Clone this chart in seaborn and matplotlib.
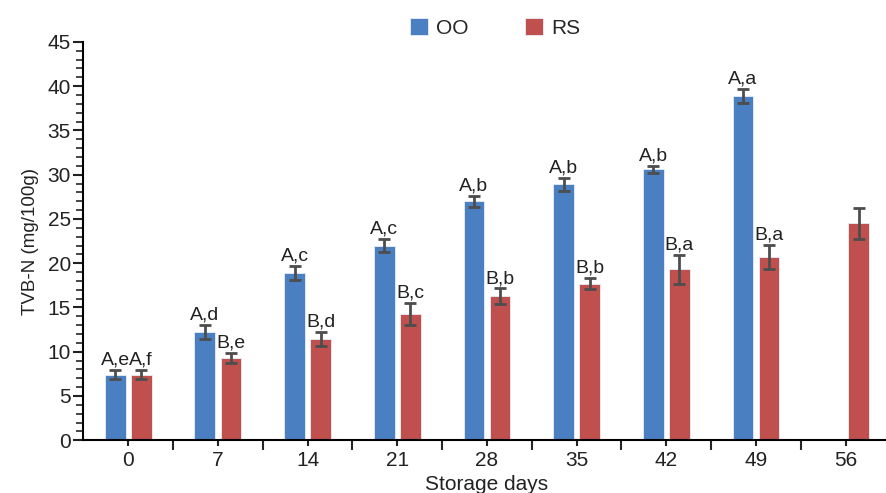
import numpy as np
import pandas as pd
import matplotlib
matplotlib.use("Agg")
import matplotlib.pyplot as plt
import seaborn as sns
from matplotlib.ticker import MultipleLocator, FixedLocator

days = ["0", "7", "14", "21", "28", "35", "42", "49", "56"]
oo_vals = [7.4, 12.2, 18.9, 22.0, 27.0, 28.9, 30.6, 38.9, np.nan]
oo_err = [0.5, 0.8, 0.8, 0.7, 0.6, 0.75, 0.4, 0.8, np.nan]
rs_vals = [7.4, 9.3, 11.4, 14.3, 16.25, 17.7, 19.3, 20.7, 24.5]
rs_err = [0.5, 0.6, 0.8, 1.25, 0.9, 0.65, 1.6, 1.4, 1.75]
oo_labels = ["A,e", "A,d", "A,c", "A,c", "A,b", "A,b", "A,b", "A,a", ""]
rs_labels = ["A,f", "B,e", "B,d", "B,c", "B,b", "B,b", "B,a", "B,a", ""]

series = ["OO", "RS"]
colors = {"OO": "#4a7fc1", "RS": "#c0504d"}

df = pd.DataFrame({
    "day": days * 2,
    "group": ["OO"] * len(days) + ["RS"] * len(days),
    "value": oo_vals + rs_vals,
})

sns.set_style("white")
plt.rcParams["font.family"] = ["Liberation Sans", "DejaVu Sans"]

fig = plt.figure(figsize=(8.87, 4.93), dpi=100)
ax = fig.add_axes([0.094, 0.107, 0.91, 0.808])

sns.barplot(data=df, x="day", y="value", hue="group", order=days,
            hue_order=series, palette=colors, width=0.58, gap=0.2,
            saturation=1, errorbar=None, edgecolor="#e8eef8", linewidth=0.6,
            ax=ax, legend=True)

errs = {"OO": oo_err, "RS": rs_err}
labs = {"OO": oo_labels, "RS": rs_labels}
for cont, name in zip(ax.containers, series):
    for bar in cont:
        h = bar.get_height()
        if not np.isfinite(h) or h == 0:
            continue
        cx = bar.get_x() + bar.get_width() / 2
        idx = int(round(cx))
        e = errs[name][idx]
        ax.errorbar(cx, h, yerr=e, fmt="none", ecolor="#4d4d4d",
                    elinewidth=2, capsize=4, capthick=2, zorder=5)
        lab = labs[name][idx]
        if lab:
            ax.annotate(lab, (cx, h + e), xytext=(0, 1), textcoords="offset points",
                        ha="center", va="bottom", fontsize=14, color="#222222")

ax.set_ylim(0, 45)
ax.set_xlim(-0.5, 8.5)
ax.yaxis.set_major_locator(MultipleLocator(5))
ax.yaxis.set_minor_locator(MultipleLocator(1))
ax.xaxis.set_minor_locator(FixedLocator(np.arange(0.5, 8.5, 1.0)))
ax.tick_params(axis="y", which="major", direction="out", length=7, width=1.5,
               labelsize=15, colors="#222222", left=True, pad=2)
ax.tick_params(axis="y", which="minor", direction="out", length=5, width=1.2,
               left=True)
ax.tick_params(axis="x", which="major", direction="out", length=4, width=1.5,
               labelsize=15, colors="#222222", bottom=True)
ax.tick_params(axis="x", which="minor", direction="out", length=7, width=1.5,
               bottom=True)
for s in ["top", "right"]:
    ax.spines[s].set_visible(False)
for s in ["left", "bottom"]:
    ax.spines[s].set_color("black")
    ax.spines[s].set_linewidth(1.5)

ax.set_xlabel("Storage days", fontsize=15, color="#222222", labelpad=4)
ax.set_ylabel("TVB-N (mg/100g)", fontsize=13.5, color="#222222", labelpad=6)

leg = ax.legend(loc="center", bbox_to_anchor=(0.51, 1.035), ncol=2, frameon=False,
                fontsize=15, handlelength=0.85, handleheight=0.85,
                columnspacing=2.7, handletextpad=0.4)

fig.savefig("out.png", dpi=100)
